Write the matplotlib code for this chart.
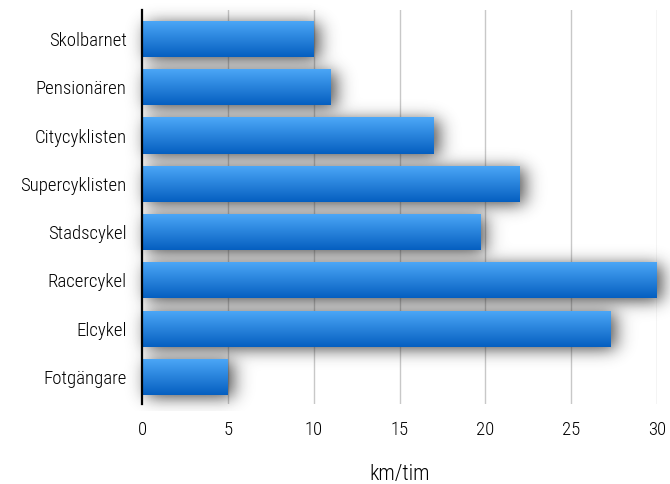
import math
import numpy as np
import matplotlib
matplotlib.use("Agg")
import matplotlib.pyplot as plt
from matplotlib.patches import Rectangle

plt.rcParams['font.family'] = ['Roboto Condensed', 'Archivo Narrow', 'DejaVu Sans']
plt.rcParams['font.weight'] = 'light'
plt.rcParams['axes.labelweight'] = 'light'

categories = ["Skolbarnet", "Pensionären", "Citycyklisten", "Supercyklisten",
              "Stadscykel", "Racercykel", "Elcykel", "Fotgängare"]
speeds = [10, 11, 17, 22, 19.7, 30, 27.3, 5]
xticks = [0, 5, 10, 15, 20, 25, 30]
xlabel = "km/tim"

W, H = 670, 484
fig = plt.figure(figsize=(W / 100, H / 100), dpi=100)
left, right, top, bottom = 142, 657, 10, 404
ax = fig.add_axes([left / W, 1 - bottom / H, (right - left) / W, (bottom - top) / H])

n = len(categories)
ypos = np.arange(n)[::-1]
bar_h = 0.75
xlim = (0, 30)
ylim = (-0.56, 7.6)

# vertical grid
for t in xticks[1:]:
    ax.axvline(t, color="#c8c8c8", lw=1.0, zorder=0)

# soft drop shadow: each bar rectangle convolved with a gaussian (analytic)
px_x = (right - left) / (xlim[1] - xlim[0])
px_y = (bottom - top) / (ylim[1] - ylim[0])
sx, sy = 9.0 / px_x, 8.0 / px_y
ox, oy = 5.0 / px_x, -3.0 / px_y
ext = (-1.5, 32.5, ylim[0] - 0.15, ylim[1] + 0.15)
gx = np.linspace(ext[0], ext[1], 700)
gy = np.linspace(ext[2], ext[3], 500)
erf = np.vectorize(math.erf)


def cdf(z):
    return 0.5 * (1 + erf(z / math.sqrt(2)))


alpha = np.zeros((gy.size, gx.size))
for y, v in zip(ypos, speeds):
    fx = cdf((gx - ox) / sx) - cdf((gx - (v + ox)) / sx)
    fy = cdf((gy - (y - bar_h / 2 + oy)) / sy) - cdf((gy - (y + bar_h / 2 + oy)) / sy)
    alpha = 1 - (1 - alpha) * (1 - 0.85 * np.outer(fy, fx))
shadow = np.zeros((gy.size, gx.size, 4))
shadow[..., :3] = 0.15
shadow[..., 3] = np.clip(alpha, 0, 0.8)
ax.imshow(shadow, extent=ext, origin="lower", aspect="auto", zorder=1,
          interpolation="bilinear", clip_on=False)

# gradient-filled bars
grad = np.linspace(0, 1, 256).reshape(-1, 1)
c_top = np.array([0x4d, 0xa8, 0xf8]) / 255
c_bot = np.array([0x05, 0x5f, 0xc0]) / 255
img = c_top[None, None, :] * (1 - grad[..., None]) + c_bot[None, None, :] * grad[..., None]
for y, v in zip(ypos, speeds):
    rect = Rectangle((0, y - bar_h / 2), v, bar_h, facecolor="none", edgecolor="none", zorder=2)
    ax.add_patch(rect)
    im = ax.imshow(img, extent=(0, v, y - bar_h / 2, y + bar_h / 2), origin="upper",
                   aspect="auto", zorder=2, interpolation="bilinear")
    im.set_clip_path(rect)

ax.set_xlim(*xlim)
ax.set_ylim(*ylim)
ax.set_yticks(ypos)
ax.set_yticklabels(categories, fontsize=13.5)
ax.set_xticks(xticks)
ax.set_xticklabels([str(t) for t in xticks], fontsize=13.5)
ax.tick_params(axis="y", length=0, pad=11)
ax.tick_params(axis="x", length=0, pad=12)
for s in ["top", "right", "bottom"]:
    ax.spines[s].set_visible(False)
ax.spines["left"].set_linewidth(1.6)
ax.spines["left"].set_color("black")
ax.spines["left"].set_zorder(5)
ax.set_xlabel(xlabel, fontsize=15.5, labelpad=18)

fig.savefig("out.png", dpi=100)
